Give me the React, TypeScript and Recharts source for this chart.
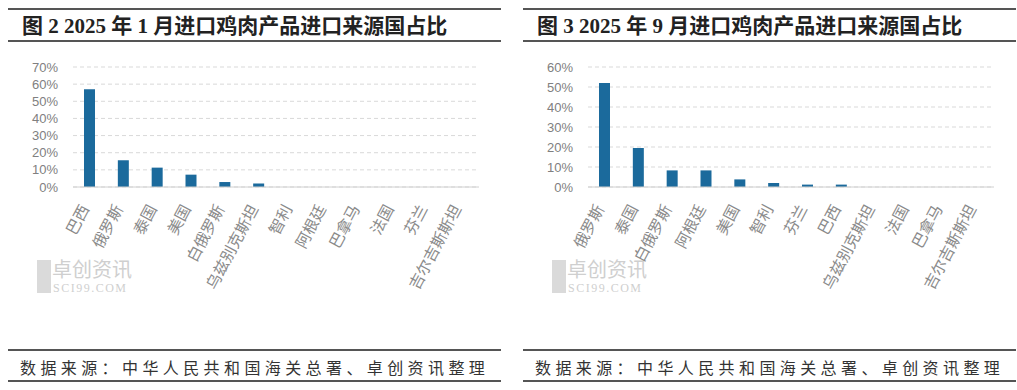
import React from "react"
import { Bar, BarChart, CartesianGrid, XAxis, YAxis } from "recharts"

// 2025年1月 进口来源国
const janCountries = ["巴西", "俄罗斯", "泰国", "美国", "白俄罗斯", "乌兹别克斯坦", "智利", "阿根廷", "巴拿马", "法国", "芬兰", "吉尔吉斯斯坦"]
const janShare = [57.0, 15.6, 11.3, 7.2, 2.9, 2.0, 0, 0, 0, 0, 0, 0]
const janTicks = [0, 10, 20, 30, 40, 50, 60, 70]

// 2025年9月 进口来源国
const sepCountries = ["俄罗斯", "泰国", "白俄罗斯", "阿根廷", "美国", "智利", "芬兰", "巴西", "乌兹别克斯坦", "法国", "巴拿马", "吉尔吉斯斯坦"]
const sepShare = [52.0, 19.5, 8.3, 8.3, 3.8, 2.0, 1.2, 1.2, 0, 0, 0, 0]
const sepTicks = [0, 10, 20, 30, 40, 50, 60]

const janData = janCountries.map((name, i) => ({ name, share: janShare[i] }))
const sepData = sepCountries.map((name, i) => ({ name, share: sepShare[i] }))

const BAR = "#1b6a9c"
const CJK = "'Noto Sans CJK SC', sans-serif"

function CountryTick(props: any) {
  const { x, y, payload } = props
  return (
    <g transform={`translate(${x - 5},${y + 11})`}>
      <text
        textAnchor="end"
        dy="0.35em"
        transform="rotate(-62)"
        fill="#8a8a8a"
        fontSize={15.5}
        fontFamily={CJK}
      >
        {payload.value}
      </text>
    </g>
  )
}

function Panel({ left, title, data, ticks }: { left: number; title: string; data: any[]; ticks: number[] }) {
  const max = ticks[ticks.length - 1]
  return (
    <div style={{ position: "absolute", left, top: 0, width: 493, height: 390 }}>
      <div style={{ position: "absolute", left: 0, top: 8, width: 493, height: 2, background: "#555" }} />
      <div
        style={{
          position: "absolute",
          left: 14,
          top: 13,
          fontFamily: "'Liberation Serif', 'Noto Sans CJK SC', serif",
          fontWeight: "bold",
          fontSize: 21,
          lineHeight: "26px",
          color: "#222",
          whiteSpace: "nowrap",
        }}
      >
        {title}
      </div>
      <div style={{ position: "absolute", left: 0, top: 40, width: 493, height: 2, background: "#555" }} />

      <div style={{ position: "absolute", left: 29, top: 260, width: 14, height: 33, background: "#dadada" }} />
      <div style={{ position: "absolute", left: 44, top: 259, fontFamily: CJK, fontSize: 20, lineHeight: "20px", color: "#cfcfcf", whiteSpace: "nowrap" }}>
        卓创资讯
      </div>
      <div style={{ position: "absolute", left: 45, top: 282, fontFamily: "'Liberation Serif', serif", fontSize: 12, lineHeight: "12px", letterSpacing: 1.5, color: "#cfcfcf", whiteSpace: "nowrap" }}>
        SCI99.COM
      </div>

      <div style={{ position: "absolute", left: 0, top: 50 }}>
        <BarChart width={493} height={250} data={data} margin={{ top: 17, right: 22, left: 0, bottom: 0 }}>
          <CartesianGrid vertical={false} stroke="#d9d9d9" strokeDasharray="4 3" />
          <XAxis
            dataKey="name"
            interval={0}
            tickLine={false}
            axisLine={{ stroke: "#d0d0d0" }}
            height={113}
            tick={<CountryTick />}
          />
          <YAxis
            width={65}
            domain={[0, max]}
            ticks={ticks}
            interval={0}
            tickFormatter={(v) => `${v}%`}
            axisLine={false}
            tickLine={false}
            tickMargin={9}
            tick={{ fill: "#808080", fontSize: 13, fontFamily: "'Liberation Sans', Arial, sans-serif" }}
          />
          <Bar dataKey="share" fill={BAR} barSize={11} isAnimationActive={false} />
        </BarChart>
      </div>

      <div style={{ position: "absolute", left: 0, top: 349, width: 493, height: 2, background: "#555" }} />
      <div
        style={{
          position: "absolute",
          left: 12,
          top: 357,
          fontFamily: CJK,
          fontSize: 16,
          lineHeight: "20px",
          letterSpacing: 4.4,
          color: "#333",
          whiteSpace: "nowrap",
        }}
      >
        数据来源：中华人民共和国海关总署、卓创资讯整理
      </div>
      <div style={{ position: "absolute", left: 0, top: 380, width: 493, height: 2, background: "#555" }} />
    </div>
  )
}

export default function App() {
  return (
    <div style={{ position: "absolute", left: 0, top: 0, width: 1017, height: 390, background: "#fff", overflow: "hidden" }}>
      <Panel left={8} title="图 2 2025 年 1 月进口鸡肉产品进口来源国占比" data={janData} ticks={janTicks} />
      <Panel left={523} title="图 3 2025 年 9 月进口鸡肉产品进口来源国占比" data={sepData} ticks={sepTicks} />
    </div>
  )
}
